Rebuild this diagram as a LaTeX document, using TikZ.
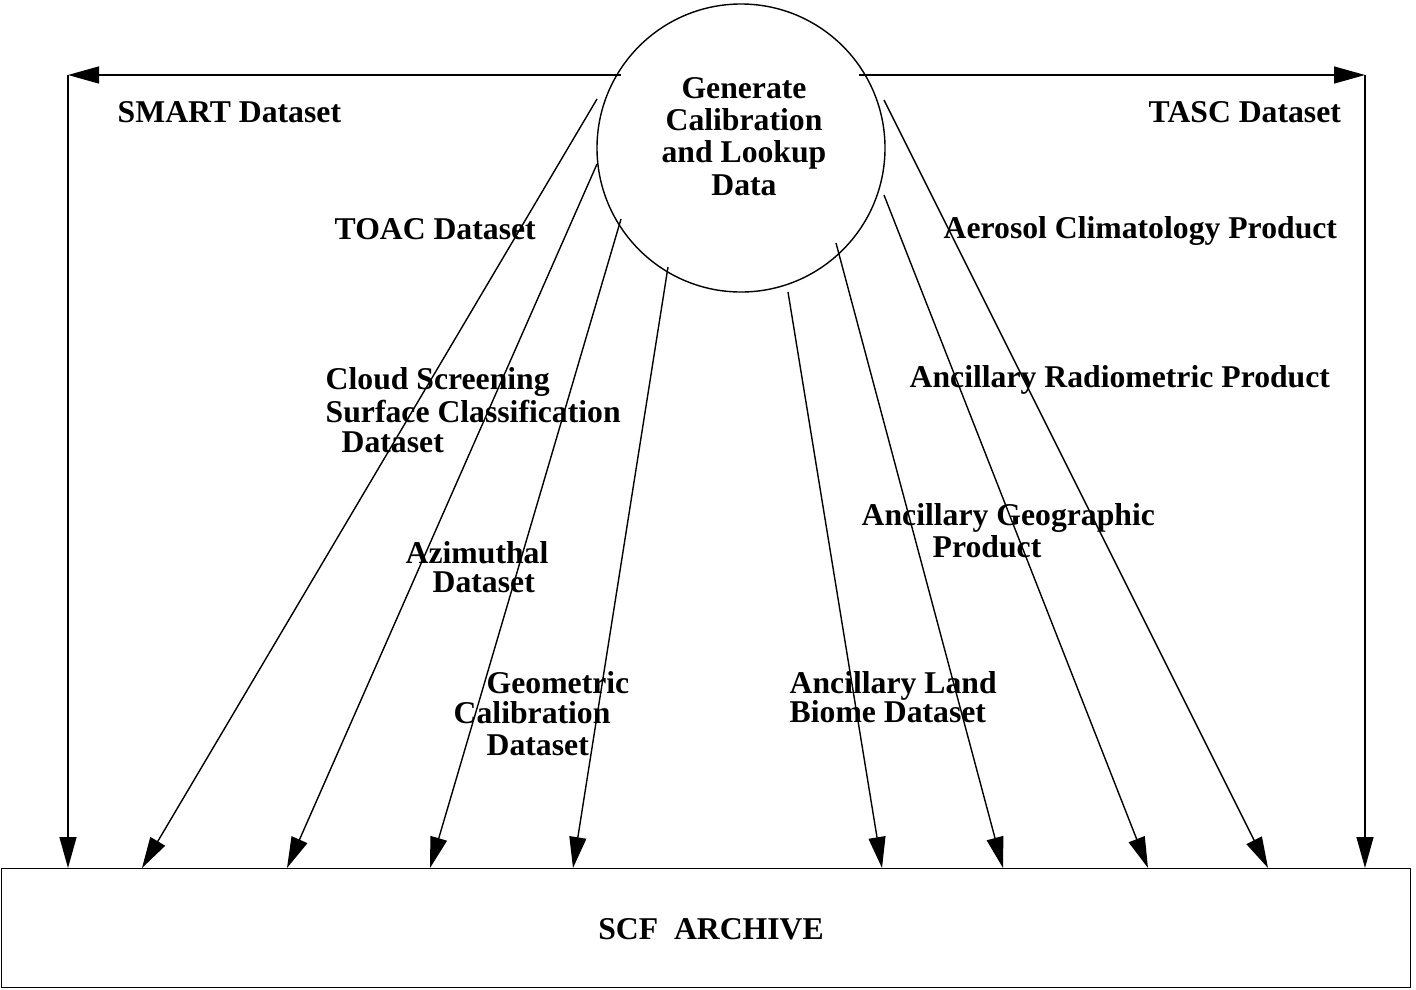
\documentclass[tikz,border=0pt]{standalone}
\usepackage{fontspec}
\setmainfont{Liberation Serif}
\usetikzlibrary{arrows.meta}
\begin{document}
\begin{tikzpicture}[x=1pt,y=-1pt,
  line width=1.4pt,
  flow/.style={-{Triangle[length=31pt,width=17pt]}},
  % multi-line labels are placed by the baseline of their last line
  lbl/.style={inner sep=0pt,anchor=base west,align=left,
    font=\fontsize{31.7}{31.5}\selectfont\bfseries},
  proc/.style={draw,circle,minimum size=288pt,inner sep=0pt},
  store/.style={draw,rectangle,inner sep=0pt}]
\useasboundingbox (0,0) rectangle (1416,989);

% process and data store
\node[proc] (gen) at (741,148) {};
\node[lbl,anchor=base,align=center,
  font=\fontsize{31.7}{32.3}\selectfont\bfseries] (gentxt) at (744,195)
  {Generate\\Calibration\\and Lookup\\Data};
\node[store,minimum width=1409pt,minimum height=119pt,anchor=north west]
  (archive) at (1,868) {};
\node[lbl,anchor=base] (archtxt) at (711,939) {SCF\ \ ARCHIVE};

% corners of the two outer flows
\coordinate (cl) at (68,75);
\coordinate (cr) at (1365,75);
\coordinate (sl) at (621,75);
\coordinate (sr) at (859,75);

% start points on the process
\coordinate (s2) at (597,99);
\coordinate (s3) at (597,164);
\coordinate (s4) at (621,219);
\coordinate (s5) at (668,267);
\coordinate (s6) at (788,292);
\coordinate (s7) at (836,243);
\coordinate (s8) at (884,195);
\coordinate (s9) at (884,100);

% end points on the archive
\coordinate (e1) at (68,868);
\coordinate (e2) at (142,868);
\coordinate (e3) at (287,868);
\coordinate (e4) at (430,868);
\coordinate (e5) at (573,868);
\coordinate (e6) at (882,868);
\coordinate (e7) at (1003,868);
\coordinate (e8) at (1148,868);
\coordinate (e9) at (1268,868);
\coordinate (e10) at (1365,868);

% flows
\draw[flow] (sl) -- (cl);
\draw[flow] (cl) -- (e1);
\draw[flow] (sr) -- (cr);
\draw[flow] (cr) -- (e10);
\draw[flow] (s2) -- (e2);
\draw[flow] (s3) -- (e3);
\draw[flow] (s4) -- (e4);
\draw[flow] (s5) -- (e5);
\draw[flow] (s6) -- (e6);
\draw[flow] (s7) -- (e7);
\draw[flow] (s8) -- (e8);
\draw[flow] (s9) -- (e9);

% flow labels
\node[lbl] (l1) at (117,122) {SMART Dataset};
\node[lbl] (l10) at (1148,122) {TASC Dataset};
\node[lbl] (l2) at (334,239) {TOAC Dataset};
\node[lbl] (l9) at (943,238) {Aerosol Climatology Product};
\node[lbl] (l3) at (325,452) {Cloud Screening\\[1pt]Surface Classification\\[-1.5pt]\hspace*{16pt}Dataset};
\node[lbl] (l8) at (909,387) {Ancillary Radiometric Product};
\node[lbl] (l4) at (405,592) {Azimuthal\\[-3pt]\hspace*{27pt}Dataset};
\node[lbl] (l7) at (861,557) {Ancillary Geographic\\\hspace*{71pt}Product};
\node[lbl] (l5) at (453,755) {\hspace*{33pt}Geometric\\[-1.5pt]Calibration\\[0.5pt]\hspace*{33pt}Dataset};
\node[lbl] (l6) at (789,722) {Ancillary Land\\[-2.5pt]Biome Dataset};
\end{tikzpicture}
\end{document}
